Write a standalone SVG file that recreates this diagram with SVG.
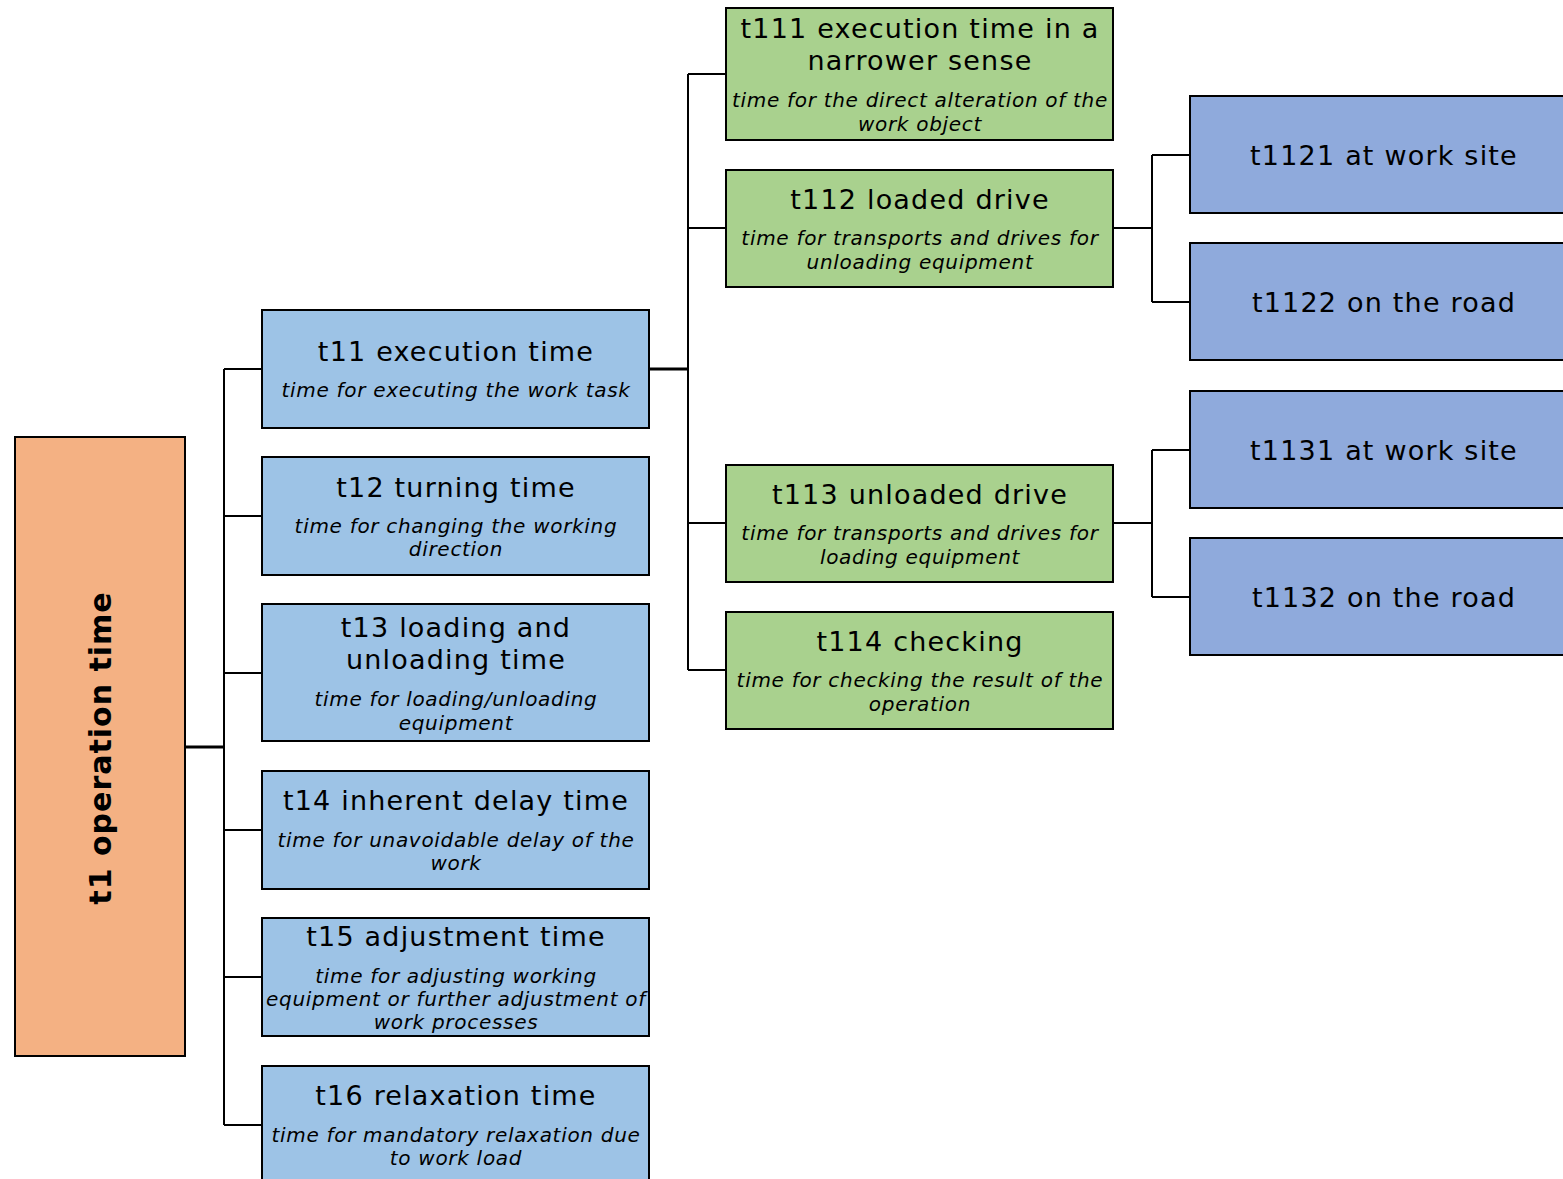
<svg xmlns="http://www.w3.org/2000/svg" width="1563" height="1179" viewBox="0 0 1563 1179">
  <style>
    .box { stroke: #000; stroke-width: 2; }
    .root { fill: #F4B183; }
    .l2 { fill: #9DC3E6; }
    .l3 { fill: #A9D18E; }
    .l4 { fill: #8FAADC; }
    .t { font-family: "DejaVu Sans", Verdana, sans-serif; font-size: 27px; letter-spacing: 1.2px; fill: #000; text-anchor: middle; }
    .s { font-family: "DejaVu Sans", Verdana, sans-serif; font-size: 20px; letter-spacing: 0.7px; font-style: italic; fill: #000; text-anchor: middle; }
    .rt { font-family: "DejaVu Sans", Verdana, sans-serif; font-size: 30px; letter-spacing: 1px; font-weight: bold; fill: #000; text-anchor: middle; }
    .c { fill: none; stroke: #000; stroke-width: 2; }
    .cb { fill: none; stroke: #000; stroke-width: 3; }
  </style>

  <g id="connectors">
    <path class="cb" d="M185 747 H224"/>
    <path class="c" d="M224 369 V1125 M224 369 H262 M224 516 H262 M224 673 H262 M224 830 H262 M224 977 H262 M224 1125 H262"/>
    <path class="cb" d="M649 369 H688"/>
    <path class="c" d="M688 74 V670 M688 74 H726 M688 228 H726 M688 523 H726 M688 670 H726"/>
    <path class="c" d="M1113 228 H1152 M1152 155 V302 M1152 155 H1190 M1152 302 H1190"/>
    <path class="c" d="M1113 523 H1152 M1152 450 V597 M1152 450 H1190 M1152 597 H1190"/>
  </g>

  <g id="t1">
    <rect class="box root" x="15" y="437" width="170" height="619"/>
    <text class="rt" transform="translate(111 748) rotate(-90)">t1 operation time</text>
  </g>

  <g id="t11">
    <rect class="box l2" x="262" y="310" width="387" height="118"/>
    <text class="t" x="456" y="361">t11 execution time</text>
    <text class="s" x="456" y="397">time for executing the work task</text>
  </g>
  <g id="t12">
    <rect class="box l2" x="262" y="457" width="387" height="118"/>
    <text class="t" x="456" y="497">t12 turning time</text>
    <text class="s" x="456" y="533">time for changing the working</text>
    <text class="s" x="456" y="556">direction</text>
  </g>
  <g id="t13">
    <rect class="box l2" x="262" y="604" width="387" height="137"/>
    <text class="t" x="456" y="637">t13 loading and</text>
    <text class="t" x="456" y="669">unloading time</text>
    <text class="s" x="456" y="706">time for loading/unloading</text>
    <text class="s" x="456" y="730">equipment</text>
  </g>
  <g id="t14">
    <rect class="box l2" x="262" y="771" width="387" height="118"/>
    <text class="t" x="456" y="810">t14 inherent delay time</text>
    <text class="s" x="456" y="847">time for unavoidable delay of the</text>
    <text class="s" x="456" y="870">work</text>
  </g>
  <g id="t15">
    <rect class="box l2" x="262" y="918" width="387" height="118"/>
    <text class="t" x="456" y="946">t15 adjustment time</text>
    <text class="s" x="456" y="983">time for adjusting working</text>
    <text class="s" x="456" y="1006">equipment or further adjustment of</text>
    <text class="s" x="456" y="1029">work processes</text>
  </g>
  <g id="t16">
    <rect class="box l2" x="262" y="1066" width="387" height="130"/>
    <text class="t" x="456" y="1105">t16 relaxation time</text>
    <text class="s" x="456" y="1142">time for mandatory relaxation due</text>
    <text class="s" x="456" y="1165">to work load</text>
  </g>

  <g id="t111">
    <rect class="box l3" x="726" y="8" width="387" height="132"/>
    <text class="t" x="920" y="38">t111 execution time in a</text>
    <text class="t" x="920" y="70">narrower sense</text>
    <text class="s" x="920" y="107">time for the direct alteration of the</text>
    <text class="s" x="920" y="131">work object</text>
  </g>
  <g id="t112">
    <rect class="box l3" x="726" y="170" width="387" height="117"/>
    <text class="t" x="920" y="209">t112 loaded drive</text>
    <text class="s" x="920" y="245">time for transports and drives for</text>
    <text class="s" x="920" y="269">unloading equipment</text>
  </g>
  <g id="t113">
    <rect class="box l3" x="726" y="465" width="387" height="117"/>
    <text class="t" x="920" y="504">t113 unloaded drive</text>
    <text class="s" x="920" y="540">time for transports and drives for</text>
    <text class="s" x="920" y="564">loading equipment</text>
  </g>
  <g id="t114">
    <rect class="box l3" x="726" y="612" width="387" height="117"/>
    <text class="t" x="920" y="651">t114 checking</text>
    <text class="s" x="920" y="687">time for checking the result of the</text>
    <text class="s" x="920" y="711">operation</text>
  </g>

  <g id="t1121">
    <rect class="box l4" x="1190" y="96" width="390" height="117"/>
    <text class="t" x="1384" y="165">t1121 at work site</text>
  </g>
  <g id="t1122">
    <rect class="box l4" x="1190" y="243" width="390" height="117"/>
    <text class="t" x="1384" y="312">t1122 on the road</text>
  </g>
  <g id="t1131">
    <rect class="box l4" x="1190" y="391" width="390" height="117"/>
    <text class="t" x="1384" y="460">t1131 at work site</text>
  </g>
  <g id="t1132">
    <rect class="box l4" x="1190" y="538" width="390" height="117"/>
    <text class="t" x="1384" y="607">t1132 on the road</text>
  </g>
</svg>
